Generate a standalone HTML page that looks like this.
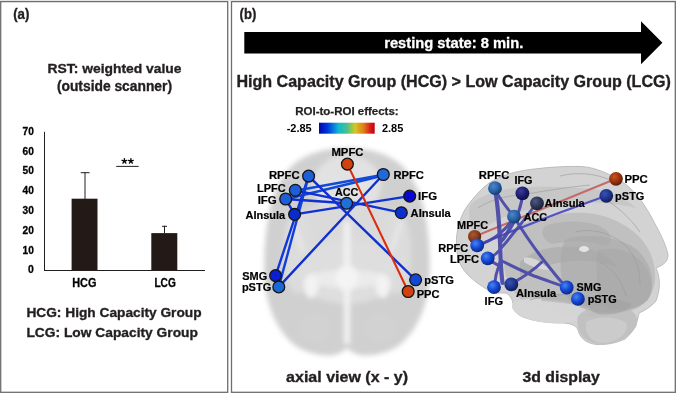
<!DOCTYPE html>
<html><head><meta charset="utf-8">
<style>
html,body{margin:0;padding:0;background:#fff;}
body{width:676px;height:393px;overflow:hidden;}
svg{display:block;will-change:transform;}
text{font-family:"Liberation Sans",sans-serif;font-weight:bold;}
.k{stroke:#231f20;stroke-width:0.35px;}
.kw{stroke:#fff;stroke-width:0.3px;}
.kb{stroke:#000;stroke-width:0.3px;}
</style></head>
<body>
<svg width="676" height="393" viewBox="0 0 676 393">
<defs>
  <linearGradient id="jet" x1="0" x2="1" y1="0" y2="0">
    <stop offset="0" stop-color="#0008a8"/>
    <stop offset="0.15" stop-color="#0034e0"/>
    <stop offset="0.35" stop-color="#10b8d0"/>
    <stop offset="0.5" stop-color="#48c090"/>
    <stop offset="0.65" stop-color="#d4c820"/>
    <stop offset="0.8" stop-color="#e07c1c"/>
    <stop offset="0.93" stop-color="#d81818"/>
    <stop offset="1" stop-color="#c00010"/>
  </linearGradient>
  <filter id="blur3" x="-20%" y="-20%" width="140%" height="140%"><feGaussianBlur stdDeviation="2.5"/></filter>
  <filter id="blur06" x="-5%" y="-5%" width="110%" height="110%"><feGaussianBlur stdDeviation="0.6"/></filter>
  <filter id="blur1" x="-20%" y="-20%" width="140%" height="140%"><feGaussianBlur stdDeviation="1"/></filter>
  <radialGradient id="sBlue" cx="0.38" cy="0.35" r="0.68">
    <stop offset="0" stop-color="#4a84ee"/><stop offset="0.55" stop-color="#1446d4"/><stop offset="1" stop-color="#0a2680"/>
  </radialGradient>
  <radialGradient id="sSteel" cx="0.38" cy="0.35" r="0.68">
    <stop offset="0" stop-color="#4c88c8"/><stop offset="0.55" stop-color="#2a62a8"/><stop offset="1" stop-color="#17366a"/>
  </radialGradient>
  <radialGradient id="sNavy" cx="0.38" cy="0.35" r="0.68">
    <stop offset="0" stop-color="#3c3ca0"/><stop offset="0.55" stop-color="#1e1e70"/><stop offset="1" stop-color="#10103c"/>
  </radialGradient>
  <radialGradient id="sNavy2" cx="0.38" cy="0.35" r="0.68">
    <stop offset="0" stop-color="#3a52b0"/><stop offset="0.55" stop-color="#1e3490"/><stop offset="1" stop-color="#101c50"/>
  </radialGradient>
  <radialGradient id="sSlate" cx="0.38" cy="0.35" r="0.68">
    <stop offset="0" stop-color="#505a80"/><stop offset="0.55" stop-color="#2e3658"/><stop offset="1" stop-color="#1a1e34"/>
  </radialGradient>
  <radialGradient id="sRed" cx="0.38" cy="0.35" r="0.68">
    <stop offset="0" stop-color="#c8561e"/><stop offset="0.55" stop-color="#9a3210"/><stop offset="1" stop-color="#5a1a08"/>
  </radialGradient>
  <radialGradient id="sBrown" cx="0.38" cy="0.35" r="0.68">
    <stop offset="0" stop-color="#a85a34"/><stop offset="0.55" stop-color="#8a3c1c"/><stop offset="1" stop-color="#4a200e"/>
  </radialGradient>
</defs>

<!-- panel frames -->
<rect x="0" y="0" width="676" height="1" fill="#ebebeb"/>
<rect x="0.7" y="1.6" width="227" height="390.7" fill="none" stroke="#6e6e6e" stroke-width="1.3"/>
<rect x="231.5" y="1.6" width="443.8" height="390.7" fill="none" stroke="#6e6e6e" stroke-width="1.3"/>

<!-- ============ PANEL A ============ -->
<g fill="#231f20">
<text class="k" x="13.2" y="18.6" font-size="14.2" textLength="16.2" lengthAdjust="spacingAndGlyphs">(a)</text>
<text class="k" x="47.6" y="72.8" font-size="13.7" textLength="133.9" lengthAdjust="spacingAndGlyphs">RST: weighted value</text>
<text class="k" x="56.9" y="91" font-size="13.9" textLength="115.1" lengthAdjust="spacingAndGlyphs">(outside scanner)</text>
</g>

<!-- chart -->
<g fill="#000" font-size="11" text-anchor="end" class="kb">
<text x="33.9" y="134.8" textLength="11.3" lengthAdjust="spacingAndGlyphs">70</text>
<text x="33.9" y="154.6" textLength="11.3" lengthAdjust="spacingAndGlyphs">60</text>
<text x="33.9" y="174.4" textLength="11.3" lengthAdjust="spacingAndGlyphs">50</text>
<text x="33.9" y="194.2" textLength="11.3" lengthAdjust="spacingAndGlyphs">40</text>
<text x="33.9" y="214.0" textLength="11.3" lengthAdjust="spacingAndGlyphs">30</text>
<text x="33.9" y="233.8" textLength="11.3" lengthAdjust="spacingAndGlyphs">20</text>
<text x="33.9" y="253.5" textLength="11.3" lengthAdjust="spacingAndGlyphs">10</text>
<text x="33.9" y="273.3" textLength="5.8" lengthAdjust="spacingAndGlyphs">0</text>
</g>
<g stroke="#231f20" stroke-width="1">
<line x1="44.5" y1="131.8" x2="44.5" y2="270.5"/>
<line x1="44" y1="270.5" x2="205" y2="270.5"/>
<line x1="85" y1="172.2" x2="85" y2="199"/>
<line x1="80.7" y1="172.7" x2="89.6" y2="172.7"/>
<line x1="164.5" y1="225.8" x2="164.5" y2="233"/>
<line x1="162" y1="226.3" x2="167" y2="226.3"/>
<line x1="116.2" y1="166.4" x2="138.6" y2="166.4"/>
</g>
<rect x="71.6" y="198.7" width="25.9" height="71.5" fill="#231a17"/>
<rect x="151.3" y="233.1" width="26" height="37.1" fill="#231a17"/>
<path d="M124.40,161.1 L124.40,158.60 M124.40,161.1 L126.78,160.33 M124.40,161.1 L125.87,163.12 M124.40,161.1 L122.93,163.12 M124.40,161.1 L122.02,160.33" stroke="#000" stroke-width="1.35" stroke-linecap="round" fill="none"/>
<path d="M130.90,161.1 L130.90,158.60 M130.90,161.1 L133.28,160.33 M130.90,161.1 L132.37,163.12 M130.90,161.1 L129.43,163.12 M130.90,161.1 L128.52,160.33" stroke="#000" stroke-width="1.35" stroke-linecap="round" fill="none"/>
<g fill="#000" font-size="11">
<text class="kb" x="72.2" y="286.6" font-size="12.6" textLength="24.2" lengthAdjust="spacingAndGlyphs">HCG</text>
<text class="kb" x="154.4" y="286.6" font-size="12.2" textLength="21.4" lengthAdjust="spacingAndGlyphs">LCG</text>
</g>
<g fill="#231f20" font-size="13.6">
<text class="k" x="26.4" y="317.3" textLength="175.2" lengthAdjust="spacingAndGlyphs">HCG: High Capacity Group</text>
<text class="k" x="26.4" y="337.3" textLength="171.5" lengthAdjust="spacingAndGlyphs">LCG: Low Capacity Group</text>
</g>

<!-- ============ PANEL B ============ -->
<text class="k" x="239.6" y="18.5" font-size="14.2" fill="#231f20" textLength="16.7" lengthAdjust="spacingAndGlyphs">(b)</text>
<polygon points="244.3,32 641,32 641,21.3 662.4,42.7 641,64.3 641,53.5 244.3,53.5" fill="#000"/>
<text class="kw" x="384.2" y="47.6" font-size="14.7" fill="#fff" textLength="139.1" lengthAdjust="spacingAndGlyphs">resting state: 8 min.</text>
<text class="k" x="236.4" y="86.8" font-size="16.0" fill="#231f20" textLength="434.5" lengthAdjust="spacingAndGlyphs">High Capacity Group (HCG) &gt; Low Capacity Group (LCG)</text>
<text class="k" style="stroke-width:0.25px" x="295.3" y="114.8" font-size="11.0" fill="#231f20" textLength="103.3" lengthAdjust="spacingAndGlyphs">ROI-to-ROI effects:</text>
<text x="286.7" y="131.6" font-size="10.7" fill="#000" textLength="25" lengthAdjust="spacingAndGlyphs">-2.85</text>
<rect x="319" y="122.7" width="55.7" height="11" fill="url(#jet)"/>
<text x="381.9" y="131.9" font-size="10.7" fill="#000" textLength="21.4" lengthAdjust="spacingAndGlyphs">2.85</text>

<!-- axial brain -->
<g filter="url(#blur3)">
  <path d="M347,148 C368,148 386,153 399,163 C411,173 419,189 424,208 C429,232 431,258 429,285 C426,310 416,331 401,344 C389,353 372,357 360,355 C354,354 350,351 347,348 C344,351 340,354 334,355 C322,357 305,353 293,344 C278,331 268,310 265,285 C263,258 265,232 270,208 C275,189 283,173 295,163 C308,153 326,148 347,148 Z" fill="#d0d0d0"/>
  <ellipse cx="347" cy="185" rx="34" ry="30" fill="#e2e2e2"/>
  <ellipse cx="347" cy="230" rx="55" ry="30" fill="#dadada"/>
  <ellipse cx="298" cy="252" rx="15" ry="42" fill="#dcdcdc"/>
  <ellipse cx="396" cy="252" rx="15" ry="42" fill="#dcdcdc"/>
  <ellipse cx="347" cy="272" rx="50" ry="32" fill="#dedede"/>
  
  <rect x="344" y="222" width="6" height="122" fill="#f2f2f2"/>
  <ellipse cx="347" cy="279" rx="40" ry="9" fill="#ebebeb"/>
  <ellipse cx="314" cy="328" rx="16" ry="14" fill="#d2d2d2"/>
  <ellipse cx="380" cy="328" rx="16" ry="14" fill="#d2d2d2"/>
  <ellipse cx="311" cy="286" rx="7" ry="12" fill="#f3f3f3"/>
  <ellipse cx="383" cy="286" rx="7" ry="12" fill="#f3f3f3"/>
  <ellipse cx="347" cy="278" rx="11" ry="13" fill="#f4f4f4"/>
  <path d="M293,222 C297,232 300,242 303,252" stroke="#e6e6e6" stroke-width="5" fill="none"/>
  <path d="M401,222 C397,232 394,242 391,252" stroke="#e6e6e6" stroke-width="5" fill="none"/>
</g>
<text class="k" x="286.1" y="382.3" font-size="15.5" fill="#231f20" textLength="121.9" lengthAdjust="spacingAndGlyphs">axial view (x - y)</text>

<!-- axial edges -->
<g stroke-width="2.4" stroke-linecap="round" fill="none">
  <line x1="295.3" y1="190.8" x2="383.3" y2="174.8" stroke="#124ad8" stroke-width="2.6"/>
  <line x1="285.7" y1="199.3" x2="383.3" y2="175.5" stroke="#124ad8" stroke-width="2.6"/>
  <line x1="308.6" y1="176.1" x2="415.6" y2="279.8" stroke="#1030d0"/>
  <line x1="383.3" y1="174.5" x2="278.8" y2="286.9" stroke="#1030d0"/>
  <line x1="308.6" y1="176.1" x2="275.6" y2="275.6" stroke="#1038d8"/>
  <line x1="308.6" y1="176.1" x2="278.8" y2="286.9" stroke="#1040dc"/>
  <line x1="294.6" y1="214.4" x2="409.7" y2="196.1" stroke="#1030d0"/>
  <line x1="295.3" y1="190.3" x2="401.3" y2="212.7" stroke="#1030d0"/>
  <line x1="285.7" y1="199" x2="346.6" y2="203.3" stroke="#1030d0"/>
  <line x1="285.7" y1="199" x2="294.6" y2="214.4" stroke="#1030d0"/>
  <line x1="347.4" y1="164.1" x2="408.2" y2="291.5" stroke="#dc2c10" stroke-width="2.1"/>
</g>
<!-- axial nodes -->
<g stroke="#151515" stroke-width="1.3">
  <circle cx="347.4" cy="164.1" r="5.9" fill="#d2420e"/>
  <circle cx="308.6" cy="176.1" r="5.9" fill="#1c5fd8"/>
  <circle cx="295.3" cy="190.3" r="5.9" fill="#1c5fd8"/>
  <circle cx="285.7" cy="199" r="5.9" fill="#1c5fd8"/>
  <circle cx="294.6" cy="214.4" r="5.9" fill="#0c2cc8"/>
  <circle cx="346.6" cy="203.3" r="5.9" fill="#2070d8"/>
  <circle cx="383.3" cy="174.5" r="5.9" fill="#1f6ad8"/>
  <circle cx="409.7" cy="196.1" r="5.9" fill="#0808d0"/>
  <circle cx="401.3" cy="212.7" r="5.9" fill="#0c30d0"/>
  <circle cx="275.6" cy="275.6" r="5.9" fill="#0a1ed4"/>
  <circle cx="278.8" cy="286.9" r="5.9" fill="#1a68d8"/>
  <circle cx="415.6" cy="279.8" r="5.9" fill="#1048d8"/>
  <circle cx="408.2" cy="291.5" r="5.9" fill="#d2420e"/>
</g>
<g fill="#000" font-size="11" class="kb" style="stroke-width:0.2px">
  <text x="331.4" y="155.6" textLength="32.1" lengthAdjust="spacingAndGlyphs">MPFC</text>
  <text x="268.9" y="179" textLength="30.7" lengthAdjust="spacingAndGlyphs">RPFC</text>
  <text x="257.0" y="192.1" textLength="28.6" lengthAdjust="spacingAndGlyphs">LPFC</text>
  <text x="257.7" y="204.2" textLength="19.1" lengthAdjust="spacingAndGlyphs">IFG</text>
  <text x="245.6" y="218.7" textLength="39.6" lengthAdjust="spacingAndGlyphs">AInsula</text>
  <text x="334.9" y="196.1" textLength="23.4" lengthAdjust="spacingAndGlyphs">ACC</text>
  <text x="393.4" y="179.4" textLength="30.5" lengthAdjust="spacingAndGlyphs">RPFC</text>
  <text x="418.1" y="199.7" textLength="19.1" lengthAdjust="spacingAndGlyphs">IFG</text>
  <text x="410.6" y="217.1" textLength="40.2" lengthAdjust="spacingAndGlyphs">AInsula</text>
  <text x="242.3" y="279.5" textLength="25.0" lengthAdjust="spacingAndGlyphs">SMG</text>
  <text x="241.9" y="290.7" textLength="29.4" lengthAdjust="spacingAndGlyphs">pSTG</text>
  <text x="424.2" y="283.6" textLength="29.8" lengthAdjust="spacingAndGlyphs">pSTG</text>
  <text x="416.7" y="298.1" textLength="22.8" lengthAdjust="spacingAndGlyphs">PPC</text>
</g>

<!-- 3D brain -->
<g filter="url(#blur06)">
  <path d="M456.4,243 C456,230 461,214 468,205 C474,197 481,189 489,183 C500,176 515,171 534,169 C550,167 568,166 582,166.5 C596,167.5 610,174 624,183 C636,192 646,206 654,222 C660,233 666,244 668,255 C668,261 664,265 656,268 C660,276 661,288 656,301 C651,307 644,311 639,313 C638,322 632,334 625,339 C617,343 606,345 597,344.5 C588,344 580,339 578,330 C576,325 570,323 560,323 C548,323 533,321 523,317 C516,314 512,309 513,305 C513,301 511,296 506,293 C500,293 494,294 488,290 C481,286 474,281 468,275 C463,270 460,265 458,258 C457,253 456.5,248 456.4,243 Z" fill="#d3d3d3" stroke="#b4b4b4" stroke-width="0.8"/>
  <path d="M503,256 C503,240 512,228 530,221 C550,214 575,211 595,214 C615,218 632,228 642,240 C652,252 656,266 655,280 C654,292 648,302 638,308 C625,314 605,316 586,316 C565,316 545,311 528,304 C515,297 508,285 505,272 C504,266 503,261 503,256 Z" fill="#b4b4b4" opacity="0.6"/>
  <path d="M470,205 C480,196 495,190 515,188 C540,186 570,186 600,190 C615,193 628,200 636,208 C620,204 600,202 580,203 C555,204 530,208 510,215 C495,220 482,228 475,238 C470,228 468,214 470,205 Z" fill="#c4c4c4" opacity="0.8"/>
  <path d="M512,305 C516,299 528,298 542,299 C560,300 578,303 592,309 C588,316 578,322 562,323 C546,324 531,321 521,316 C515,312 511,309 512,305 Z" fill="#d6d6d6" opacity="0.95"/>
  <path d="M540,296 C556,292 580,293 600,298 C606,302 604,308 596,310 C580,305 560,302 542,301 Z" fill="#acacac" opacity="0.55"/>
  <path d="M578,316 C586,306 606,303 622,306 C634,309 640,318 636,327 C630,337 618,343 604,344 C592,344.5 583,340 579,331 C577,326 577,320 578,316 Z" fill="#bdbdbd" opacity="0.85"/>
  <path d="M586,322 C596,316 614,316 626,322 C630,332 620,341 604,343 C594,343 587,337 586,329 Z" fill="#cecece" opacity="0.7"/>
  <path d="M520,262 C535,248 560,244 585,248 C600,251 612,258 618,268 C605,262 585,259 565,262 C550,264 535,268 520,276 Z" fill="#a2a2a2" opacity="0.45"/>
  <path d="M565,240 C585,232 615,236 635,248 C650,260 656,280 650,296 C642,308 625,313 605,313 C588,312 572,306 566,295 C560,282 558,255 565,240 Z" fill="#a8a8a8" opacity="0.6"/>
  <path d="M598,250 C612,246 630,250 642,262 C652,274 654,290 648,300 C640,308 625,311 610,309 C600,305 596,295 597,282 C597,270 596,258 598,250 Z" fill="#a4a4a4" opacity="0.45"/>
  <path d="M545,226 C560,220 585,220 600,226 C612,232 614,242 606,246 C590,240 570,240 552,244 C542,240 540,232 545,226 Z" fill="#a6a6a6" opacity="0.45"/>
  <path d="M590,300 C600,296 618,298 632,304 C628,312 612,316 598,314 C590,312 587,306 590,300 Z" fill="#a0a0a0" opacity="0.5"/>
  <ellipse cx="584" cy="249" rx="5" ry="3" fill="#e6e6e6" opacity="0.95"/>
  <path d="M524,258 C532,256 542,262 549,270 C540,270 530,266 524,262 Z" fill="#dadada" opacity="0.9"/>
  <g fill="none" stroke="#9c9c9c" stroke-width="0.9" opacity="0.7">
    <path d="M478,208 C490,200 505,196 520,195 C540,192 560,188 590,185"/>
    <path d="M560,176 C575,172 595,173 610,180"/>
    <path d="M600,196 C615,205 628,215 640,232"/>
    <path d="M575,232 C590,228 610,232 625,245 C635,255 640,268 640,285"/>
    <path d="M530,300 C545,295 565,293 580,296"/>
    <path d="M600,262 C612,268 622,280 626,296"/>
  </g>
</g>
<!-- 3D edges -->
<g fill="none" stroke-linecap="round">
  <line x1="474.6" y1="236.5" x2="616" y2="178.8" stroke="#c46a6a" stroke-width="2"/>
  <path d="M477.2,245.4 C500,236 540,219 606.3,195.8" stroke="#5252c4" stroke-width="2.2"/>
  <g stroke="#4444a8" stroke-width="3" opacity="0.9">
    <path d="M495,189 C499,212 500,236 500.5,256 C501,268 501.5,276 502.5,283" stroke-width="4.2"/>
    <path d="M495,189 C500,200 507,208 514,216.7"/>
    <path d="M522.5,193 C522,208 513,226 503,240"/>
    <path d="M536.6,203 C528,215 515,232 502,247"/>
    <path d="M514,217 C512,226 506,234 501,242"/>
    <path d="M501,248 C497,254 492,257 487.7,258.3"/>
    <path d="M514,217 C508,228 495,240 477.2,245.4"/>
    <path d="M514,217 C522,230 534,248 546,263 C554,273 560,281 566.7,287.5"/>
    <path d="M502,261 C512,266 522,271 534,276 C546,280 556,284 566.7,287.5"/>
    <path d="M511,284 C520,279 531,273 542,262"/>
    <path d="M500,262 C497,270 495,278 494,287.2"/>
    <path d="M487.7,258.3 C492,262 496,264 500,266"/>
  </g>
</g>
<!-- 3D nodes -->
<g>
  <circle cx="495" cy="188.2" r="6.9" fill="url(#sSteel)"/>
  <circle cx="522.4" cy="193.3" r="6.9" fill="url(#sNavy)"/>
  <circle cx="537" cy="203.4" r="6.9" fill="url(#sSlate)"/>
  <circle cx="514" cy="216.7" r="6.9" fill="url(#sSteel)"/>
  <circle cx="474.6" cy="236.5" r="6.6" fill="url(#sBrown)"/>
  <circle cx="477.2" cy="245.4" r="6.9" fill="url(#sBlue)"/>
  <circle cx="487.7" cy="258.3" r="6.9" fill="url(#sBlue)"/>
  <circle cx="494" cy="287.2" r="6.9" fill="url(#sBlue)"/>
  <circle cx="511.3" cy="284.4" r="6.9" fill="url(#sNavy2)"/>
  <circle cx="566.7" cy="287.5" r="6.9" fill="url(#sBlue)"/>
  <circle cx="577.9" cy="298.9" r="6.9" fill="url(#sBlue)"/>
  <circle cx="616" cy="178.8" r="6.9" fill="url(#sRed)"/>
  <circle cx="606.3" cy="195.8" r="6.9" fill="url(#sNavy2)"/>
</g>
<g fill="#000" font-size="11" class="kb" style="stroke-width:0.2px">
  <text x="478.8" y="178.8" textLength="30.5" lengthAdjust="spacingAndGlyphs">RPFC</text>
  <text x="514.4" y="184.4" textLength="18.1" lengthAdjust="spacingAndGlyphs">IFG</text>
  <text x="544.6" y="207.3" textLength="40.2" lengthAdjust="spacingAndGlyphs">AInsula</text>
  <text x="523.7" y="220.5" textLength="23.4" lengthAdjust="spacingAndGlyphs">ACC</text>
  <text x="457.1" y="228.9" textLength="31.0" lengthAdjust="spacingAndGlyphs">MPFC</text>
  <text x="438.3" y="251.7" textLength="30.0" lengthAdjust="spacingAndGlyphs">RPFC</text>
  <text x="450.0" y="263.4" textLength="29.0" lengthAdjust="spacingAndGlyphs">LPFC</text>
  <text x="484.6" y="304.9" textLength="18.4" lengthAdjust="spacingAndGlyphs">IFG</text>
  <text x="516.0" y="297.3" textLength="40.2" lengthAdjust="spacingAndGlyphs">AInsula</text>
  <text x="576.6" y="290.5" textLength="24.8" lengthAdjust="spacingAndGlyphs">SMG</text>
  <text x="587.7" y="303.2" textLength="29.0" lengthAdjust="spacingAndGlyphs">pSTG</text>
  <text x="624.4" y="182.6" textLength="23.4" lengthAdjust="spacingAndGlyphs">PPC</text>
  <text x="615.1" y="200.1" textLength="29.3" lengthAdjust="spacingAndGlyphs">pSTG</text>
</g>
<text class="k" x="522.5" y="382.1" font-size="15.5" fill="#231f20" textLength="77.4" lengthAdjust="spacingAndGlyphs">3d display</text>
</svg>
</body></html>
